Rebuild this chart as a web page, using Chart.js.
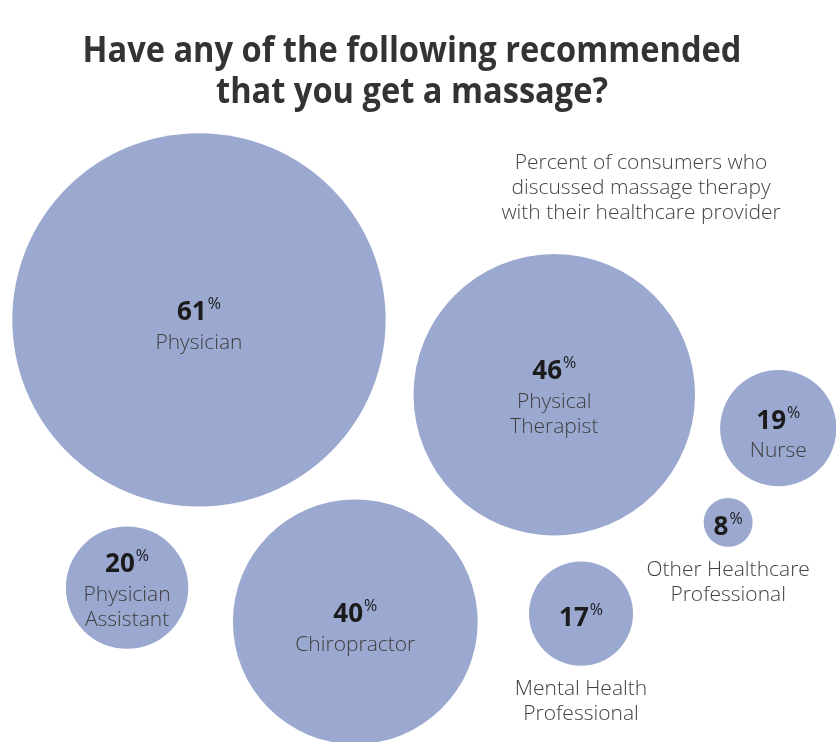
<!DOCTYPE html>
<html>
<head>
<meta charset="utf-8">
<title>Massage recommendations</title>
<script src="https://cdn.jsdelivr.net/npm/chart.js@4/dist/chart.umd.min.js"></script>
<style>
  html, body { margin: 0; padding: 0; background: #fff; }
  #wrap { width: 836px; height: 742px; position: relative; }
</style>
</head>
<body>
<div id="wrap"><canvas id="myChart"></canvas></div>
<script>
// who recommended a massage, share of consumers (%)
const categories = [
  ["Physician"],
  ["Physical", "Therapist"],
  ["Nurse"],
  ["Other Healthcare", "Professional"],
  ["Physician", "Assistant"],
  ["Chiropractor"],
  ["Mental Health", "Professional"],
];
const shares = [61, 46, 19, 8, 20, 40, 17];

// bubble placement on a 0-100 grid (packed layout)
const posX = [23.8, 66.3, 93.1, 87.1, 15.2, 42.5, 69.5];
const posY = [43.1, 53.2, 57.7, 70.4, 79.2, 83.8, 82.7];

const titleLines = ["Have any of the following recommended", "that you get a massage?"];
const noteLines = ["Percent of consumers who", "discussed massage therapy", "with their healthcare provider"];

const PX_PER_POINT = 3.06;   // bubble radius per percentage point
const BUBBLE = "rgb(155, 168, 207)";
const LIGHT = '"Open Sans", "Lato", sans-serif';

// small bubbles carry their caption underneath
const captionBelow = (i) => shares[i] < 18;

const labelPlugin = {
  id: "bubbleLabels",
  afterDatasetsDraw(chart) {
    const ctx = chart.ctx;
    const meta = chart.getDatasetMeta(0);
    ctx.save();
    ctx.textAlign = "center";
    ctx.textBaseline = "middle";

    meta.data.forEach((el, i) => {
      const { x, y } = el.getProps(["x", "y"], true);
      const r = el.options.radius;
      const lines = categories[i];
      let numY, nameY;
      if (captionBelow(i)) {
        numY = y + 5;
        nameY = y + r + 23;
      } else if (lines.length === 1) {
        numY = y - 7;
        nameY = y + 23;
      } else {
        numY = y - 23;
        nameY = y + 7;
      }

      // value with a raised percent sign
      const num = String(shares[i]);
      ctx.font = 'bold 26px "Open Sans", sans-serif';
      const wNum = ctx.measureText(num).width;
      ctx.font = '16px "Open Sans", sans-serif';
      const wPct = ctx.measureText("%").width;
      const left = x - (wNum + wPct + 1) / 2;
      ctx.fillStyle = "#1b1b1b";
      ctx.textAlign = "left";
      ctx.font = 'bold 26px "Open Sans", sans-serif';
      ctx.fillText(num, left, numY);
      ctx.font = '16px "Open Sans", sans-serif';
      ctx.fillText("%", left + wNum + 1, numY - 8);

      ctx.textAlign = "center";
      ctx.fillStyle = "#3f3f3f";
      ctx.font = "300 21px " + LIGHT;
      lines.forEach((ln, k) => ctx.fillText(ln, x, nameY + k * 25));
    });

    // side note
    ctx.fillStyle = "#444";
    ctx.font = "300 21px " + LIGHT;
    noteLines.forEach((ln, k) => ctx.fillText(ln, 641, 163 + k * 25));

    // heading, set in a condensed bold
    ctx.fillStyle = "#333";
    ctx.font = 'bold 35px "Open Sans", sans-serif';
    ctx.textBaseline = "alphabetic";
    const sx = 659 / ctx.measureText(titleLines[0]).width;
    titleLines.forEach((ln, k) => {
      ctx.save();
      ctx.translate(412, 62 + k * 41);
      ctx.scale(sx, 1);
      ctx.fillText(ln, 0, 0);
      ctx.restore();
    });
    ctx.restore();
  },
};

const points = shares.map((v, i) => ({ x: posX[i], y: posY[i], r: v * PX_PER_POINT }));

new Chart(document.getElementById("myChart"), {
  type: "bubble",
  data: {
    labels: categories,
    datasets: [{
      data: points,
      backgroundColor: BUBBLE,
      borderWidth: 0,
      hoverBorderWidth: 0,
      clip: false,
    }],
  },
  options: {
    responsive: true,
    maintainAspectRatio: false,
    animation: false,
    layout: { padding: 0, autoPadding: false },
    plugins: {
      legend: { display: false },
      tooltip: { enabled: false },
      title: { display: false },
    },
    scales: {
      x: { type: "linear", min: 0, max: 100, display: false },
      y: { type: "linear", min: 0, max: 100, reverse: true, display: false },
    },
  },
  plugins: [labelPlugin],
});
</script>
</body>
</html>
